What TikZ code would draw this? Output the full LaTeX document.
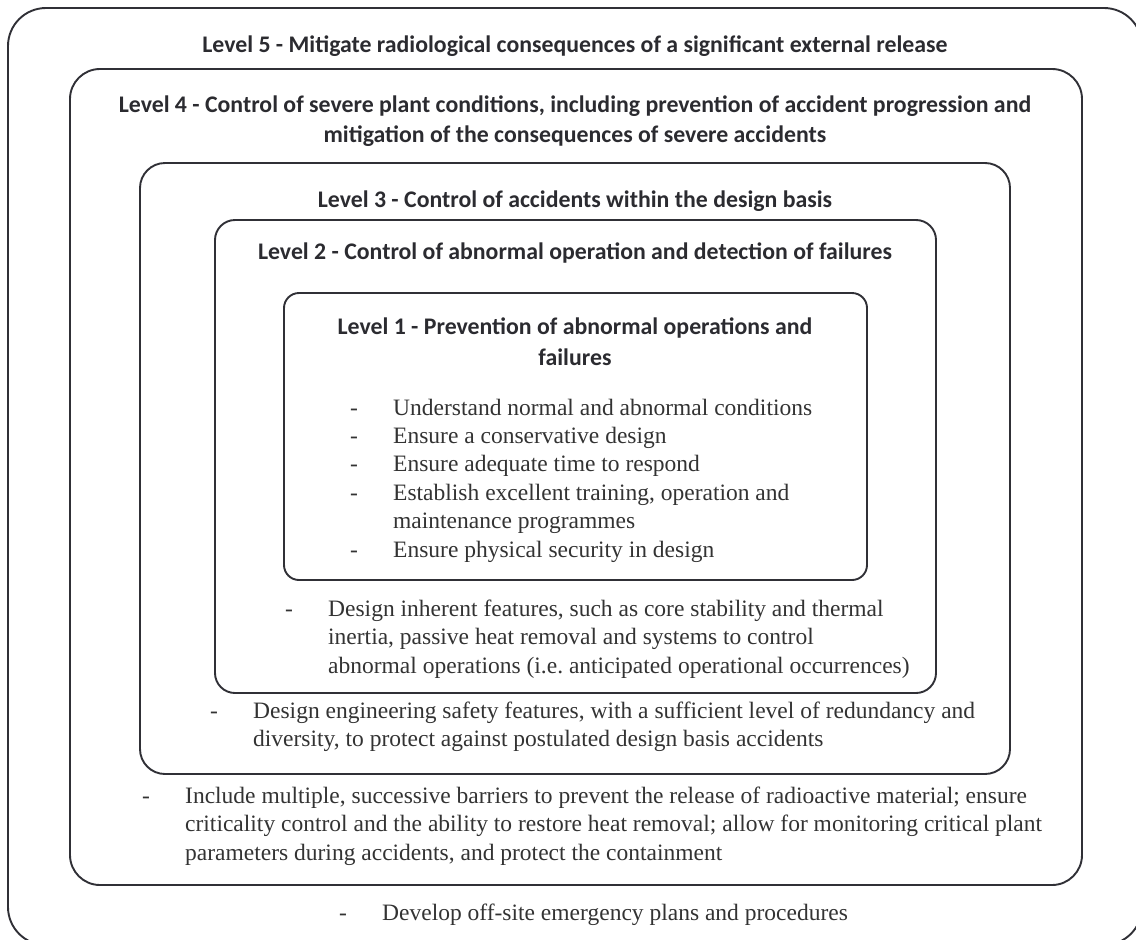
\documentclass[tikz,border=0pt]{standalone}
\usepackage{fontspec}
\setmainfont{Liberation Serif}
\newfontfamily\titlefont{Carlito}
\definecolor{linec}{HTML}{303036}
\definecolor{txt}{HTML}{2B2B30}
\definecolor{bodytxt}{HTML}{333333}
\frenchspacing
\begin{document}
\begin{tikzpicture}[x=1pt,y=-1pt,
  lvbox/.style={draw=linec, line width=1.9pt},
  ttl/.style={font=\titlefont\bfseries\fontsize{23.8}{30}\selectfont, text=txt, anchor=base, inner sep=0pt},
  bd/.style={font=\fontsize{23.5}{28}\selectfont, text=bodytxt, anchor=base west, inner sep=0pt},
]
\useasboundingbox (0,0) rectangle (1136,940);
\clip (0,0) rectangle (1136,940);
% boxes
\draw[lvbox, rounded corners=38pt] (8,8) rectangle (1142,945);
\draw[lvbox, rounded corners=30pt] (70,69) rectangle (1082,885);
\draw[lvbox, rounded corners=25pt] (140,163) rectangle (1010,774);
\draw[lvbox, rounded corners=20pt] (215,220) rectangle (936,693);
\draw[lvbox, rounded corners=15pt] (284,293) rectangle (867,580);
% titles
\node[ttl] (t5) at (575,52) {Level 5 - Mitigate radiological consequences of a significant external release};
\node[ttl] (t4a) at (575,112) {Level 4 - Control of severe plant conditions, including prevention of accident progression and};
\node[ttl] (t4b) at (575,142) {mitigation of the consequences of severe accidents};
\node[ttl] (t3) at (575,207) {Level 3 - Control of accidents within the design basis};
\node[ttl] (t2) at (575,259) {Level 2 - Control of abnormal operation and detection of failures};
\node[ttl] (t1a) at (575,334) {Level 1 - Prevention of abnormal operations and};
\node[ttl] (t1b) at (575,365) {failures};
% level 1 bullets
\node[bd] (d1a) at (350,415) {-};
\node[bd] (b1a) at (393,415) {Understand normal and abnormal conditions};
\node[bd] (d1b) at (350,443.4) {-};
\node[bd] (b1b) at (393,443.4) {Ensure a conservative design};
\node[bd] (d1c) at (350,471.8) {-};
\node[bd] (b1c) at (393,471.8) {Ensure adequate time to respond};
\node[bd] (d1d) at (350,500.2) {-};
\node[bd] (b1d) at (393,500.2) {Establish excellent training, operation and};
\node[bd] (b1e) at (393,528.6) {maintenance programmes};
\node[bd] (d1f) at (350,557) {-};
\node[bd] (b1f) at (393,557) {Ensure physical security in design};
% level 2 bullets
\node[bd] (d2a) at (285,616) {-};
\node[bd] (b2a) at (328,616) {Design inherent features, such as core stability and thermal};
\node[bd] (b2b) at (328,644.5) {inertia, passive heat removal and systems to control};
\node[bd] (b2c) at (328,673) {abnormal operations (i.e. anticipated operational occurrences)};
% level 3 bullets
\node[bd] (d3a) at (210,718) {-};
\node[bd] (b3a) at (253,718) {Design engineering safety features, with a sufficient level of redundancy and};
\node[bd] (b3b) at (253,746) {diversity, to protect against postulated design basis accidents};
% level 4 bullets
\node[bd] (d4a) at (142,803) {-};
\node[bd] (b4a) at (185,803) {Include multiple, successive barriers to prevent the release of radioactive material; ensure};
\node[bd] (b4b) at (185,831.5) {criticality control and the ability to restore heat removal; allow for monitoring critical plant};
\node[bd] (b4c) at (185,860) {parameters during accidents, and protect the containment};
% level 5 bullet
\node[bd] (d5a) at (339,920) {-};
\node[bd] (b5a) at (382,920) {Develop off-site emergency plans and procedures};
\end{tikzpicture}
\end{document}
